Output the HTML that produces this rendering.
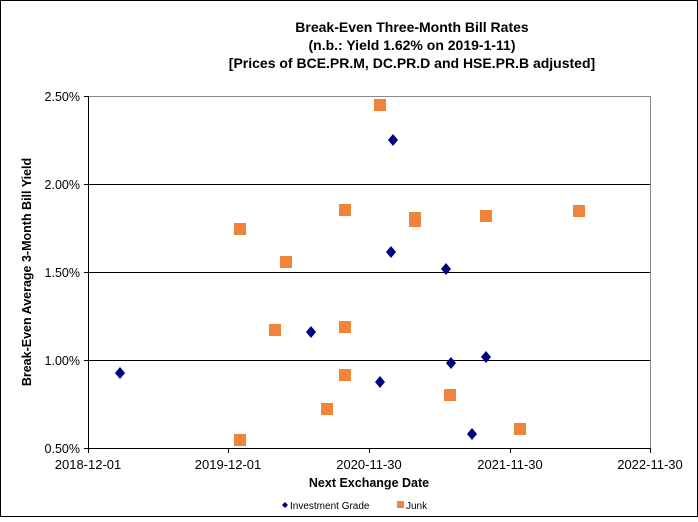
<!DOCTYPE html><html><head><style>body{margin:0;background:#fff}</style></head><body>
<svg width="698" height="517" xmlns="http://www.w3.org/2000/svg" font-family="Liberation Sans, Arial, sans-serif">
<rect x="0.5" y="0.5" width="697" height="516" fill="#fff" stroke="#000"/>
<g font-size="14" font-weight="bold" text-anchor="middle">
<text x="412" y="32">Break-Even Three-Month Bill Rates</text>
<text x="412" y="50">(n.b.: Yield 1.62% on 2019-1-11)</text>
<text x="412" y="68">[Prices of BCE.PR.M, DC.PR.D and HSE.PR.B adjusted]</text>
</g>
<g stroke="#000" stroke-width="1">
<line x1="88" y1="96.5" x2="650" y2="96.5" stroke="#888"/>
<line x1="88" y1="184.5" x2="650" y2="184.5"/>
<line x1="88" y1="272.5" x2="650" y2="272.5"/>
<line x1="88" y1="360.5" x2="650" y2="360.5"/>
<line x1="88" y1="448.5" x2="650" y2="448.5"/>
<line x1="88.5" y1="96" x2="88.5" y2="448"/>
<line x1="650.5" y1="96" x2="650.5" y2="448" stroke="#888"/>
<line x1="84" y1="96.5" x2="88" y2="96.5"/><line x1="84" y1="184.5" x2="88" y2="184.5"/><line x1="84" y1="272.5" x2="88" y2="272.5"/><line x1="84" y1="360.5" x2="88" y2="360.5"/><line x1="84" y1="448.5" x2="88" y2="448.5"/>
<line x1="88.5" y1="448" x2="88.5" y2="453"/><line x1="228.5" y1="448" x2="228.5" y2="453"/><line x1="369.5" y1="448" x2="369.5" y2="453"/><line x1="510.5" y1="448" x2="510.5" y2="453"/><line x1="650.5" y1="448" x2="650.5" y2="453"/>
</g>
<g font-size="12.5" text-anchor="end">
<text x="80" y="101">2.50%</text><text x="80" y="189">2.00%</text><text x="80" y="277">1.50%</text><text x="80" y="365">1.00%</text><text x="80" y="453">0.50%</text>
</g>
<g font-size="13" text-anchor="middle">
<text x="88" y="469">2018-12-01</text><text x="228" y="469">2019-12-01</text><text x="369" y="469">2020-11-30</text><text x="510" y="469">2021-11-30</text><text x="650" y="469">2022-11-30</text>
</g>
<text x="369" y="487" font-size="12.5" font-weight="bold" text-anchor="middle">Next Exchange Date</text>
<text transform="translate(31,272) rotate(-90)" font-size="12.5" font-weight="bold" text-anchor="middle">Break-Even Average 3-Month  Bill Yield</text>
<g fill="#F0843C">
<rect x="234" y="434" width="12" height="12"/><rect x="234" y="223" width="12" height="12"/><rect x="269" y="324" width="12" height="12"/><rect x="280" y="256" width="12" height="12"/><rect x="321" y="403" width="12" height="12"/><rect x="339" y="204" width="12" height="12"/><rect x="339" y="321" width="12" height="12"/><rect x="339" y="369" width="12" height="12"/><rect x="374" y="99" width="12" height="12"/><rect x="409" y="212" width="12" height="12"/><rect x="409" y="215" width="12" height="12"/><rect x="444" y="389" width="12" height="12"/><rect x="480" y="210" width="12" height="12"/><rect x="514" y="423" width="12" height="12"/><rect x="573" y="205" width="12" height="12"/>
</g>
<g fill="#000080">
<path d="M120 367l5 6-5 6-5-6z"/><path d="M311 326l5 6-5 6-5-6z"/><path d="M393 134l5 6-5 6-5-6z"/><path d="M391 246l5 6-5 6-5-6z"/><path d="M380 376l5 6-5 6-5-6z"/><path d="M446 263l5 6-5 6-5-6z"/><path d="M451 357l5 6-5 6-5-6z"/><path d="M486 351l5 6-5 6-5-6z"/><path d="M472 428l5 6-5 6-5-6z"/>
</g>
<path d="M285 502l3 3-3 3-3-3z" fill="#000080"/>
<text x="290" y="509" font-size="10">Investment Grade</text>
<rect x="397" y="501" width="7" height="7" fill="#F0843C"/>
<text x="406" y="509" font-size="10">Junk</text>
</svg>
</body></html>
